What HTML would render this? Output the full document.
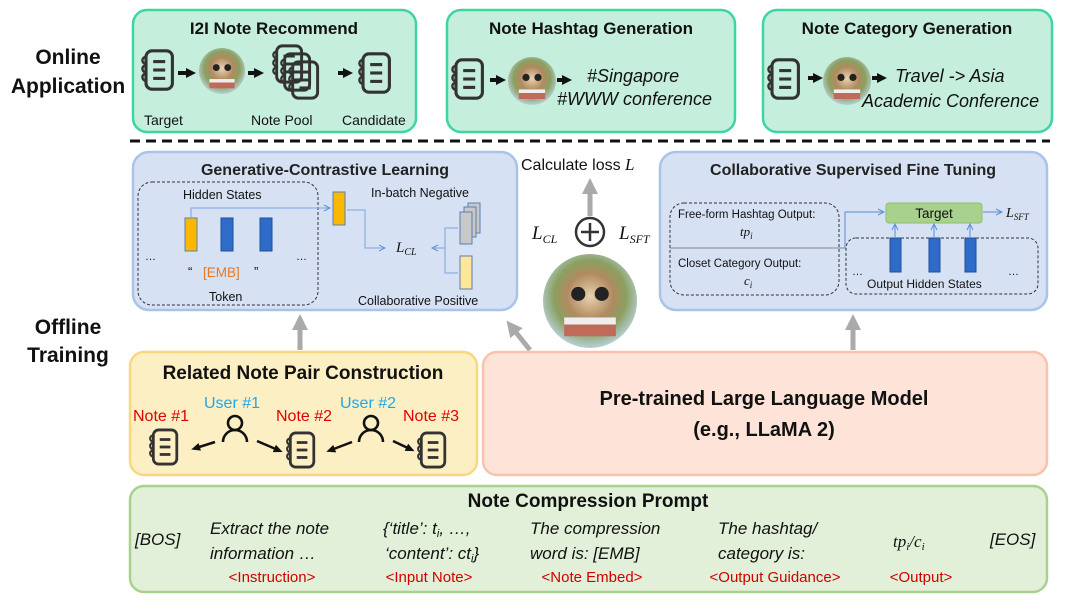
<!DOCTYPE html>
<html><head><meta charset="utf-8"><style>
html,body{margin:0;padding:0;background:#fff;}
svg{display:block;font-family:"Liberation Sans",sans-serif;}
</style></head><body>
<svg width="1080" height="613" viewBox="0 0 1080 613" xmlns="http://www.w3.org/2000/svg">
<defs>
<symbol id="note" viewBox="0 0 30 36">
<rect x="5" y="2" width="22" height="32" rx="5" fill="none" stroke="#333" stroke-width="2.6"/>
<line x1="11" y1="11" x2="21" y2="11" stroke="#333" stroke-width="2.6"/>
<line x1="11" y1="18" x2="21" y2="18" stroke="#333" stroke-width="2.6"/>
<line x1="11" y1="25" x2="21" y2="25" stroke="#333" stroke-width="2.6"/>
<path d="M5 7 a3 3 0 0 0 0 6 M5 14 a3 3 0 0 0 0 6 M5 21 a3 3 0 0 0 0 6" fill="none" stroke="#333" stroke-width="2"/>
</symbol>
<radialGradient id="lg" cx="50%" cy="45%" r="55%">
<stop offset="0" stop-color="#e8d2b0"/><stop offset="0.45" stop-color="#b08a60"/><stop offset="0.7" stop-color="#8aa060"/><stop offset="1" stop-color="#b8d0d8"/>
</radialGradient>
<symbol id="llama" viewBox="0 0 40 40">
<circle cx="20" cy="20" r="20" fill="url(#lg)"/>
<circle cx="15" cy="17" r="3" fill="#222"/><circle cx="25" cy="17" r="3" fill="#222"/>
<rect x="9" y="27" width="22" height="8" fill="#c06a5a"/><rect x="9" y="27" width="22" height="3" fill="#eee"/>
</symbol>
<symbol id="user" viewBox="0 0 30 30">
<circle cx="15" cy="9" r="7" fill="none" stroke="#111" stroke-width="2.6"/>
<path d="M3 28 a12 12 0 0 1 24 0" fill="none" stroke="#111" stroke-width="2.6"/>
</symbol>
<marker id="ab" markerUnits="userSpaceOnUse" markerWidth="12" markerHeight="12" refX="4" refY="6" orient="auto"><path d="M0 1 L10 6 L0 11z" fill="#111"/></marker>
<marker id="ab2" markerUnits="userSpaceOnUse" markerWidth="10" markerHeight="10" refX="4" refY="5" orient="auto"><path d="M0 1 L9 5 L0 9z" fill="#111"/></marker>
<marker id="ag" markerUnits="userSpaceOnUse" markerWidth="20" markerHeight="20" refX="4" refY="10" orient="auto"><path d="M0 2 L16 10 L0 18z" fill="#aaa"/></marker>
<marker id="abl" markerWidth="8" markerHeight="8" refX="7" refY="4" orient="auto"><path d="M1 1 L7 4 L1 7" fill="none" stroke="#5b8fd6" stroke-width="1"/></marker>
</defs>

<g font-weight="bold" font-size="21" fill="#111" text-anchor="middle">
<text x="68" y="64">Online</text><text x="68" y="93">Application</text>
<text x="68" y="334">Offline</text><text x="68" y="362">Training</text>
</g>

<g fill="#c6eedd" stroke="#3dd6a0" stroke-width="2.5">
<rect x="133" y="10" width="283" height="122" rx="14"/>
<rect x="447" y="10" width="288" height="122" rx="14"/>
<rect x="763" y="10" width="289" height="122" rx="14"/>
</g>
<g font-weight="bold" font-size="17" fill="#111" text-anchor="middle">
<text x="274" y="34">I2I Note Recommend</text>
<text x="591" y="34">Note Hashtag Generation</text>
<text x="907" y="34">Note Category Generation</text>
</g>
<use href="#note" x="140" y="47" width="36" height="46"/>
<use href="#llama" x="199" y="45" width="46" height="52"/>
<use href="#note" x="271" y="43" width="34" height="42"/>
<use href="#note" x="279" y="51" width="34" height="42"/>
<use href="#note" x="287" y="59" width="34" height="42"/>
<use href="#note" x="357" y="50" width="36" height="46"/>
<g stroke="#111" stroke-width="4" marker-end="url(#ab)">
<line x1="178" y1="73" x2="190" y2="73"/><line x1="248" y1="73" x2="258" y2="73"/><line x1="338" y1="73" x2="347" y2="73"/>
</g>
<g font-size="14" fill="#111"><text x="144" y="125">Target</text><text x="251" y="125">Note Pool</text><text x="342" y="125">Candidate</text></g>
<use href="#note" x="450" y="56" width="36" height="46"/>
<use href="#llama" x="508" y="53" width="48" height="56"/>
<g stroke="#111" stroke-width="4" marker-end="url(#ab)"><line x1="490" y1="80" x2="500" y2="80"/><line x1="557" y1="80" x2="566" y2="80"/><line x1="808" y1="78" x2="817" y2="78"/><line x1="872" y1="78" x2="881" y2="78"/></g>
<g font-size="18" font-style="italic" fill="#111">
<text x="587" y="82">#Singapore</text><text x="557" y="105">#WWW conference</text>
<text x="895" y="82">Travel -&gt; Asia</text><text x="862" y="107">Academic Conference</text>
</g>
<use href="#note" x="766" y="56" width="36" height="46"/>
<use href="#llama" x="823" y="53" width="48" height="56"/>

<line x1="130" y1="141" x2="1050" y2="141" stroke="#111" stroke-width="3" stroke-dasharray="10,6"/>

<rect x="133" y="152" width="384" height="158" rx="16" fill="#d6e2f3" stroke="#a9c4e8" stroke-width="2.5"/>
<text x="325" y="175" font-weight="bold" font-size="16" fill="#222" text-anchor="middle">Generative-Contrastive Learning</text>
<rect x="138" y="182" width="180" height="123" rx="14" fill="none" stroke="#333" stroke-dasharray="3,2"/>
<text x="183" y="199" font-size="12.5" fill="#111">Hidden States</text>
<rect x="185" y="218" width="12" height="33" fill="#fbb800" stroke="#5b7fb0"/>
<rect x="221" y="218" width="12" height="33" fill="#2f6cc9" stroke="#1f4f99"/>
<rect x="260" y="218" width="12" height="33" fill="#2f6cc9" stroke="#1f4f99"/>
<text x="145" y="260" font-size="11" fill="#111">…</text><text x="296" y="260" font-size="11" fill="#111">…</text>
<text x="188" y="276" font-size="13" fill="#111">“</text><text x="203" y="277" font-size="13.5" fill="#e87722">[EMB]</text><text x="254" y="276" font-size="13" fill="#111">”</text>
<text x="209" y="301" font-size="12.5" fill="#111">Token</text>
<path d="M191 218 V208 H330" fill="none" stroke="#7aa3e0" stroke-width="1" marker-end="url(#abl)"/>
<rect x="333" y="192" width="12" height="33" fill="#fbb800" stroke="#5b7fb0"/>
<path d="M347 210 H365 V248 H385" fill="none" stroke="#7aa3e0" stroke-width="1" marker-end="url(#abl)"/>
<text x="396" y="252" font-size="15" font-style="italic" font-family="Liberation Serif,serif" fill="#111">L<tspan font-size="10" dy="3">CL</tspan></text>
<text x="371" y="197" font-size="12.5" fill="#111">In-batch Negative</text>
<rect x="468" y="203" width="12" height="30" fill="#c8c8c8" stroke="#5b7fb0"/>
<rect x="464" y="207" width="12" height="30" fill="#c8c8c8" stroke="#5b7fb0"/>
<rect x="460" y="212" width="12" height="32" fill="#c8c8c8" stroke="#5b7fb0"/>
<rect x="460" y="256" width="12" height="33" fill="#ffe699" stroke="#5b7fb0"/>
<path d="M458 228 H445 V273 H458 M445 248 H432" fill="none" stroke="#7aa3e0" stroke-width="1"/>
<path d="M436 248 L432 248" marker-end="url(#abl)" stroke="#7aa3e0"/>
<text x="358" y="305" font-size="12.5" fill="#111">Collaborative Positive</text>

<rect x="660" y="152" width="387" height="158" rx="16" fill="#d6e2f3" stroke="#a9c4e8" stroke-width="2.5"/>
<text x="853" y="175" font-weight="bold" font-size="16" fill="#222" text-anchor="middle">Collaborative Supervised Fine Tuning</text>
<rect x="670" y="203" width="169" height="92" rx="14" fill="none" stroke="#333" stroke-dasharray="3,2"/>
<line x1="670" y1="248" x2="842" y2="248" stroke="#666" stroke-width="0.8"/>
<text x="678" y="218" font-size="11.5" fill="#111">Free-form Hashtag Output:</text>
<text x="740" y="236" font-size="13" font-style="italic" font-family="Liberation Serif,serif" fill="#111">tp<tspan font-size="9" dy="3">i</tspan></text>
<text x="678" y="267" font-size="11.5" fill="#111">Closet Category Output:</text>
<text x="744" y="285" font-size="13" font-style="italic" font-family="Liberation Serif,serif" fill="#111">c<tspan font-size="9" dy="3">i</tspan></text>
<path d="M842 248 H845 V212 H884" fill="none" stroke="#5b8fd6" stroke-width="1" marker-end="url(#abl)"/>
<rect x="886" y="203" width="96" height="20" rx="3" fill="#a9d18e" stroke="#8dbf6f"/>
<text x="934" y="218" font-size="13.5" fill="#111" text-anchor="middle">Target</text>
<line x1="983" y1="212" x2="1002" y2="212" stroke="#5b8fd6" marker-end="url(#abl)"/>
<text x="1006" y="217" font-size="14" font-style="italic" font-family="Liberation Serif,serif" fill="#111">L<tspan font-size="9" dy="3">SFT</tspan></text>
<rect x="846" y="238" width="192" height="56" rx="10" fill="none" stroke="#333" stroke-dasharray="3,2"/>
<g fill="#2f6cc9" stroke="#1f4f99"><rect x="890" y="238" width="11" height="34"/><rect x="929" y="238" width="11" height="34"/><rect x="965" y="238" width="11" height="34"/></g>
<g stroke="#5b8fd6" stroke-width="1" marker-end="url(#abl)"><line x1="895" y1="237" x2="895" y2="224"/><line x1="934" y1="237" x2="934" y2="224"/><line x1="970" y1="237" x2="970" y2="224"/></g>
<text x="852" y="275" font-size="11" fill="#111">…</text><text x="1008" y="275" font-size="11" fill="#111">…</text>
<text x="867" y="288" font-size="12" fill="#111">Output Hidden States</text>

<text x="521" y="170" font-size="16" fill="#111">Calculate loss <tspan font-style="italic" font-family="Liberation Serif,serif" font-size="17">L</tspan></text>
<line x1="590" y1="216" x2="590" y2="190" stroke="#aaa" stroke-width="5" marker-end="url(#ag)"/>
<circle cx="590" cy="232" r="14" fill="#fff" stroke="#333" stroke-width="2.5"/>
<path d="M590 223 V241 M581 232 H599" stroke="#333" stroke-width="2.5"/>
<text x="532" y="239" font-size="19" font-style="italic" font-family="Liberation Serif,serif" fill="#111">L<tspan font-size="12" dy="4">CL</tspan></text>
<text x="619" y="239" font-size="19" font-style="italic" font-family="Liberation Serif,serif" fill="#111">L<tspan font-size="12" dy="4">SFT</tspan></text>
<use href="#llama" x="543" y="254" width="94" height="94"/>

<g stroke="#aaa" stroke-width="5" marker-end="url(#ag)">
<line x1="300" y1="350" x2="300" y2="326"/>
<line x1="530" y1="350" x2="514" y2="330"/>
<line x1="853" y1="350" x2="853" y2="326"/>
</g>

<rect x="130" y="352" width="347" height="123" rx="14" fill="#fdefc4" stroke="#f9d77e" stroke-width="2.5"/>
<text x="303" y="379" font-weight="bold" font-size="19" fill="#111" text-anchor="middle">Related Note Pair Construction</text>
<g font-size="16" fill="#e00000"><text x="133" y="421">Note #1</text><text x="276" y="421">Note #2</text><text x="403" y="421">Note #3</text></g>
<g font-size="16" fill="#1ea7e8"><text x="204" y="408">User #1</text><text x="340" y="408">User #2</text></g>
<use href="#note" x="148" y="427" width="32" height="40"/>
<use href="#note" x="285" y="430" width="32" height="40"/>
<use href="#note" x="416" y="430" width="32" height="40"/>
<use href="#user" x="220" y="414" width="30" height="30"/>
<use href="#user" x="356" y="414" width="30" height="30"/>
<g stroke="#111" stroke-width="2.5" marker-end="url(#ab2)">
<line x1="215" y1="442" x2="196" y2="448"/><line x1="257" y1="441" x2="278" y2="450"/>
<line x1="352" y1="442" x2="331" y2="450"/><line x1="393" y1="441" x2="410" y2="449"/>
</g>

<rect x="483" y="352" width="564" height="123" rx="14" fill="#fde3d8" stroke="#f9c3ab" stroke-width="2.5"/>
<g font-weight="bold" font-size="20" fill="#111" text-anchor="middle">
<text x="764" y="405">Pre-trained Large Language Model</text>
<text x="764" y="436">(e.g., LLaMA 2)</text>
</g>

<rect x="130" y="486" width="917" height="106" rx="14" fill="#e2f0d9" stroke="#a9d18e" stroke-width="2.5"/>
<text x="588" y="507" font-weight="bold" font-size="19" fill="#111" text-anchor="middle">Note Compression Prompt</text>
<g font-size="17" font-style="italic" fill="#111">
<text x="135" y="545">[BOS]</text>
<text x="210" y="534">Extract the note</text><text x="210" y="559">information …</text>
<text x="383" y="534">{‘title’: t<tspan font-size="11" dy="3">i</tspan><tspan dy="-3">, …,</tspan></text>
<text x="385" y="559">‘content’: ct<tspan font-size="11" dy="3">i</tspan><tspan dy="-3">}</tspan></text>
<text x="530" y="534">The compression</text><text x="530" y="559">word is: [EMB]</text>
<text x="718" y="534">The hashtag/</text><text x="718" y="559">category is:</text>
<text x="893" y="547" font-family="Liberation Serif,serif">tp<tspan font-size="11" dy="3">i</tspan><tspan dy="-3">/c</tspan><tspan font-size="11" dy="3">i</tspan></text>
<text x="990" y="545">[EOS]</text>
</g>
<g font-size="15" fill="#d00000" text-anchor="middle">
<text x="272" y="582">&lt;Instruction&gt;</text><text x="429" y="582">&lt;Input Note&gt;</text><text x="592" y="582">&lt;Note Embed&gt;</text><text x="775" y="582">&lt;Output Guidance&gt;</text><text x="921" y="582">&lt;Output&gt;</text>
</g>
</svg>
</body></html>
